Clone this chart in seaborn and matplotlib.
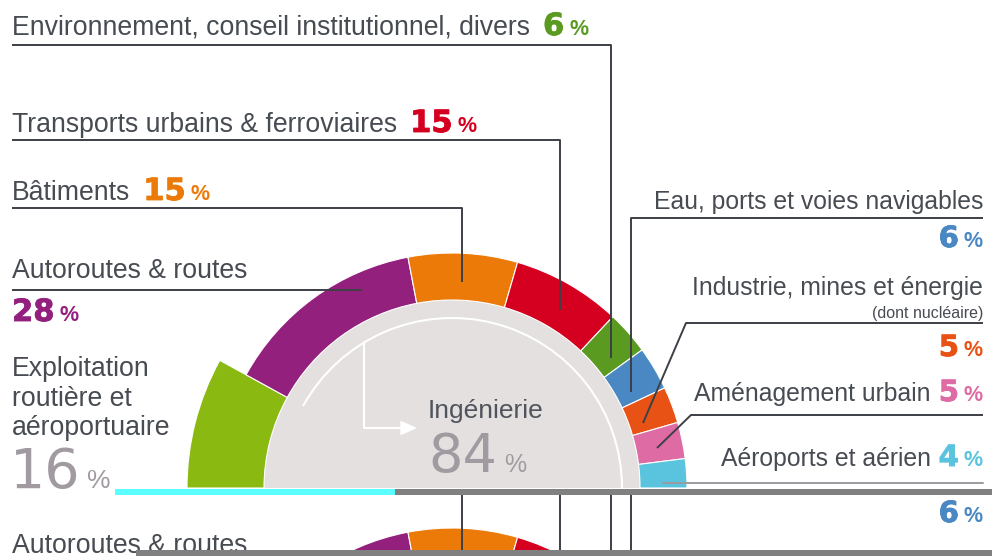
import numpy as np
import pandas as pd
import matplotlib
matplotlib.use("Agg")
import matplotlib.pyplot as plt
from matplotlib.patches import Wedge, Arc, Rectangle
import matplotlib.patheffects as pe
import seaborn as sns

# ---------------- data ----------------
ing_categories = ["Autoroutes & routes", "Bâtiments", "Transports urbains & ferroviaires",
                  "Environnement, conseil institutionnel, divers", "Eau, ports et voies navigables",
                  "Industrie, mines et énergie", "Aménagement urbain", "Aéroports et aérien"]
ing_values = [28, 15, 15, 6, 6, 5, 5, 4]
ing_colors = ["#94207E", "#EC7A08", "#D5001F", "#5A9A20", "#4A88C4", "#E85214", "#DE6BA4", "#5AC3DE"]
expl_label = "Exploitation\nroutière et\naéroportuaire"
expl_value = 16
expl_color = "#8AB912"
ing_label = "Ingénierie"
ing_total = 84
sub_note = "(dont nucléaire)"

sns.set_theme(style="white")
plt.rcParams['font.family'] = ['Liberation Sans', 'DejaVu Sans']

W, H = 992, 556
fig = plt.figure(figsize=(W / 100, H / 100), dpi=100)
fig.patch.set_facecolor("white")
renderer = fig.canvas.get_renderer()

TXT = "#474B52"
LINE = "#3C4046"
BIGGRAY = "#A19BA1"
CX, CY = 452, 488
R_IN, R_OUT, R_EXPL = 188, 235, 265
LAB_L = 19.2
LAB_R = 17.8
NUM_L = 22
NUM_R = 21
PCT = 15.5


def _runs(ax, x, y, parts, ha, clip):
    arts, gaps = [], []
    for s, kw in parts:
        kw = dict(kw)
        gaps.append(kw.pop("gap", 0))
        arts.append(ax.text(0, y, s, va="baseline", ha="left", clip_on=clip, **kw))
    widths = [t.get_window_extent(renderer).width for t in arts]
    total = sum(widths) + sum(gaps)
    cur = x if ha == "left" else x - total
    for t, w, g in zip(arts, widths, gaps):
        cur += g
        t.set_x(cur)
        cur += w


def lab(s, size):
    return (s, dict(fontsize=size, color=TXT))


def num(s, c, size, gap=8):
    return (s, dict(fontsize=size, color=c, fontweight="bold", family="DejaVu Sans", gap=gap,
                    path_effects=[pe.withStroke(linewidth=0.6, foreground=c)]))


def pct(c):
    return ("%", dict(fontsize=PCT, color=c, fontweight="bold", gap=5))


def draw(ax, clip=False):
    ax.set_xlim(0, W)
    ax.axis("off")
    R = lambda s, y, parts, ha="left": _runs(ax, s, y, parts, ha, clip)
    # gray inner half disc
    ax.add_patch(Wedge((CX, CY), R_IN, -180, 0, facecolor="#E3E0DF", edgecolor="none", clip_on=clip))
    scale = 180.0 / (expl_value + ing_total)
    a_start = 180.0
    a_end = a_start - expl_value * scale
    ax.add_patch(Wedge((CX, CY), R_EXPL, -a_start, -a_end, width=R_EXPL - R_IN,
                       facecolor=expl_color, edgecolor="white", lw=0.8, clip_on=clip))
    a = a_end
    for v, c in zip(ing_values, ing_colors):
        a2 = a - v * scale
        ax.add_patch(Wedge((CX, CY), R_OUT, -a, -a2, width=R_OUT - R_IN,
                           facecolor=c, edgecolor="white", lw=0.8, clip_on=clip))
        a = a2
    # white arc (Ingénierie span) + arrow
    ax.add_patch(Arc((CX, CY), 2 * 170, 2 * 170, theta1=-a_end, theta2=0,
                     color="white", lw=1.5, clip_on=clip))
    ang = np.deg2rad(121)
    sx = CX + 170 * np.cos(ang)
    sy = CY - 170 * np.sin(ang)
    ax.plot([sx, sx, 405], [sy, 428, 428], color="white", lw=1.5, clip_on=clip)
    ax.annotate("", xy=(420, 428), xytext=(400, 428),
                arrowprops=dict(arrowstyle="-|>,head_length=0.8,head_width=0.35", color="white", lw=1.5),
                annotation_clip=clip)
    # center text
    ax.text(485, 418, ing_label, fontsize=19, color="#50545C", ha="center", va="baseline", clip_on=clip)
    R(428, 472, [(f"{ing_total}", dict(fontsize=39, color=BIGGRAY, family="DejaVu Sans")),
                 ("%", dict(fontsize=18, color=BIGGRAY, gap=7))])

    # -------- left labels ---------
    c = ing_colors
    R(12, 35, [lab(ing_categories[3], LAB_L), num(f"{ing_values[3]}", c[3], NUM_L, 13), pct(c[3])])
    R(12, 132, [lab(ing_categories[2], LAB_L), num(f"{ing_values[2]}", c[2], NUM_L, 13), pct(c[2])])
    R(12, 200, [lab(ing_categories[1], LAB_L), num(f"{ing_values[1]}", c[1], NUM_L, 13), pct(c[1])])
    R(12, 278, [lab(ing_categories[0], LAB_L)])
    R(12, 321, [num(f"{ing_values[0]}", c[0], NUM_L, 0), pct(c[0])])
    for i, line in enumerate(expl_label.split("\n")):
        ax.text(12, 376 + i * 29.5, line, fontsize=LAB_L, color=TXT, va="baseline", clip_on=clip)
    R(10, 488, [(f"{expl_value}", dict(fontsize=40, color=BIGGRAY, family="DejaVu Sans")),
                ("%", dict(fontsize=19, color=BIGGRAY, gap=6))])

    # -------- right labels ---------
    RX = 983
    R(RX, 209, [lab(ing_categories[4], LAB_R)], "right")
    R(RX, 247, [num(f"{ing_values[4]}", c[4], NUM_R, 0), pct(c[4])], "right")
    R(RX, 295, [lab(ing_categories[5], LAB_R)], "right")
    ax.text(RX, 318, sub_note, fontsize=11.5, color=TXT, ha="right", va="baseline", clip_on=clip)
    R(RX, 356, [num(f"{ing_values[5]}", c[5], NUM_R, 0), pct(c[5])], "right")
    R(RX, 401, [lab(ing_categories[6], LAB_R), num(f"{ing_values[6]}", c[6], NUM_R, 8), pct(c[6])], "right")
    R(RX, 466, [lab(ing_categories[7], LAB_R), num(f"{ing_values[7]}", c[7], NUM_R, 8), pct(c[7])], "right")

    # -------- leader lines ---------
    kw = dict(color=LINE, lw=1.4, clip_on=clip, solid_capstyle="butt")
    ax.plot([12, 362], [290, 290], **kw)
    ax.plot([12, 462, 462], [208, 208, 282], **kw)
    ax.plot([12, 560, 560], [140, 140, 310], **kw)
    ax.plot([12, 611, 611], [45, 45, 358], **kw)
    ax.plot([983, 631, 631], [218, 218, 392], **kw)
    ax.plot([983, 686, 643], [323, 323, 423], **kw)
    ax.plot([983, 691, 657], [415, 415, 448], **kw)
    ax.plot([983, 663], [483, 483], color="#9A9CA0", lw=1.4, clip_on=clip)


# main axes
ax = fig.add_axes([0, 0, 1, 1])
ax.set_ylim(H, 0)
draw(ax)

# duplicated (glitch) strip at the bottom
OFF = 275
y0, y1 = 495, 556
ax2 = fig.add_axes([0, 0, 1, (y1 - y0) / H])
ax2.set_ylim(y1 - OFF, y0 - OFF)
ax2.add_patch(Rectangle((0, y0 - OFF), W, y1 - y0, facecolor="white", edgecolor="none", zorder=-10))
draw(ax2, clip=True)

# glitch bars
ov = fig.add_axes([0, 0, 1, 1], zorder=10)
ov.set_xlim(0, W)
ov.set_ylim(H, 0)
ov.axis("off")
ov.add_patch(Rectangle((115, 489), 280, 6, facecolor="#5CFFFF", edgecolor="none"))
ov.add_patch(Rectangle((395, 489), W - 395, 6, facecolor="#808080", edgecolor="none"))
ov.add_patch(Rectangle((136, 550), W - 136, 6, facecolor="#808080", edgecolor="none"))

fig.savefig("out.png", dpi=100, facecolor="white")
